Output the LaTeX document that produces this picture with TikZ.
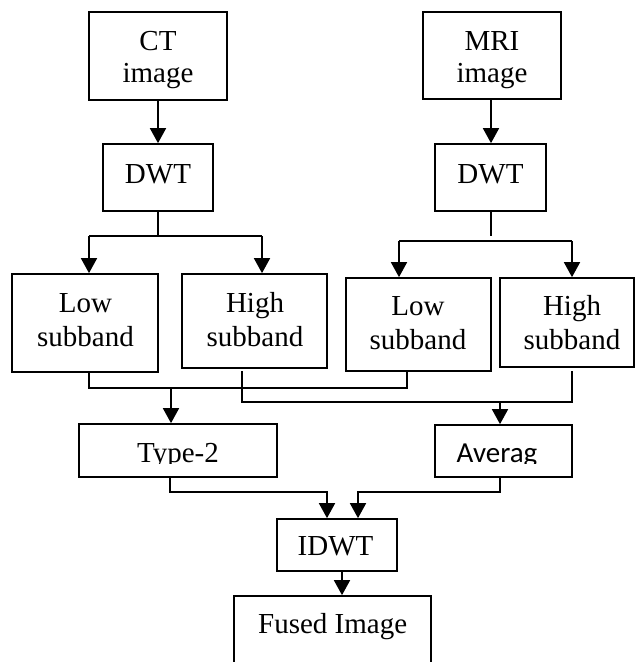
\documentclass[tikz,border=0pt]{standalone}
\usepackage{fontspec}
\setmainfont{Liberation Serif}
\newfontfamily\sansfam{Carlito}
\usetikzlibrary{arrows.meta}
\begin{document}
\begin{tikzpicture}[x=1pt,y=-1pt,
  box/.style={draw,line width=1.7pt,rectangle,inner sep=0pt},
  txt/.style={inner sep=0pt,anchor=base,font=\fontsize{29}{33}\selectfont},
  conn/.style={line width=1.7pt},
  arr/.style={conn,-{Triangle[width=16pt,length=15pt]}}]
\clip (0,0) rectangle (635,662);
\fill[white] (0,0) rectangle (635,662);

% boxes
\node[box,minimum width=138pt,minimum height=88pt] (ct) at (158,56) {};
\node[box,minimum width=138pt,minimum height=87pt] (mri) at (492,55.5) {};
\node[box,minimum width=110pt,minimum height=67pt] (dwt1) at (158,177.5) {};
\node[box,minimum width=111pt,minimum height=67pt] (dwt2) at (490.5,177.5) {};
\node[box,minimum width=146pt,minimum height=98pt] (low1) at (85,323) {};
\node[box,minimum width=145pt,minimum height=94pt] (high1) at (254.5,321) {};
\node[box,minimum width=145pt,minimum height=93pt] (low2) at (418.5,324.5) {};
\node[box,minimum width=134pt,minimum height=89pt] (high2) at (567,322.5) {};
\node[box,minimum width=198pt,minimum height=53pt] (type2) at (178,450.5) {};
\node[box,minimum width=137pt,minimum height=52pt] (avg) at (503.5,451) {};
\node[box,minimum width=120pt,minimum height=52pt] (idwt) at (337,545) {};
\node[box,minimum width=197pt,minimum height=90pt] (fused) at (332.5,641) {};

% labels
\node[txt] (ct1) at (158,50) {CT};
\node[txt] (ct2) at (158,82) {image};
\node[txt] (mri1) at (492,50) {MRI};
\node[txt] (mri2) at (492,82) {image};
\node[txt] (dwt1t) at (158,183) {DWT};
\node[txt] (dwt2t) at (490.5,183) {DWT};
\node[txt] (low1a) at (85.5,312) {Low};
\node[txt] (low1b) at (85.5,346) {subband};
\node[txt] (high1a) at (255,312) {High};
\node[txt] (high1b) at (255,346) {subband};
\node[txt] (low2a) at (418,315) {Low};
\node[txt] (low2b) at (418,349) {subband};
\node[txt] (high2a) at (572,315) {High};
\node[txt] (high2b) at (572,349) {subband};
\node[txt] (idwtt) at (335.5,555) {IDWT};
\node[txt] (fusedt) at (332.7,633) {Fused Image};

% clipped labels
\begin{scope}
\clip (79,424) rectangle (277,463.5);
\node[txt] (type2t) at (178,462) {Type-2};
\end{scope}
\begin{scope}
\clip (435,425) rectangle (572,463.5);
\node[txt,font=\sansfam\fontsize{29}{33}\selectfont] (avgt) at (497,462) {Averag};
\end{scope}

% top arrows
\draw[arr] (ct.south) -- (dwt1.north);
\draw[arr] (mri.south -| 491,0) -- (dwt2.north -| 491,0);

% DWT1 split
\coordinate (j1) at (158,236);
\draw[conn] (dwt1.south) -- (j1);
\draw[conn] (89,236) -- (262,236);
\draw[arr] (89,236) -- (low1.north -| 89,0);
\draw[arr] (262,236) -- (high1.north -| 262,0);

% DWT2 split
\coordinate (j2) at (491,236);
\draw[conn] (dwt2.south -| 491,0) -- (j2);
\draw[conn] (399,241) -- (572,241);
\draw[arr] (399,241) -- (low2.north -| 399,0);
\draw[arr] (572,241) -- (high2.north -| 572,0);

% low subbands -> Type-2
\coordinate (l1) at (89,388);
\coordinate (l2) at (407,388);
\draw[conn] (low1.south -| 89,0) -- (l1) -- (l2) -- (low2.south -| 407,0);
\draw[arr] (171,388) -- (type2.north -| 171,0);

% high subbands -> Average
\coordinate (h1) at (242,402);
\coordinate (h2) at (572,402);
\draw[conn] (242,371) -- (h1) -- (h2) -- (572,371);
\draw[arr] (500,402) -- (avg.north -| 500,0);

% to IDWT
\draw[arr] (type2.south -| 170,0) -- (170,492) -| (idwt.north -| 327,0);
\draw[arr] (avg.south -| 500,0) -- (500,492) -| (idwt.north -| 358,0);

% to fused
\draw[arr] (idwt.south -| 342,0) -- (fused.north -| 342,0);
\end{tikzpicture}
\end{document}
